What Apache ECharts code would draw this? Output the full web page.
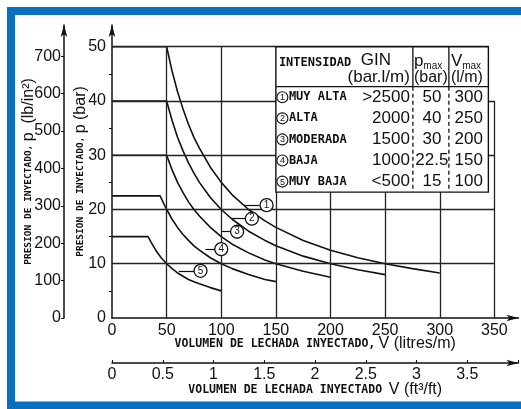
<!DOCTYPE html>
<html><head><meta charset="utf-8">
<script src="https://cdn.jsdelivr.net/npm/echarts@6/dist/echarts.min.js"></script>
<style>html,body{margin:0;padding:0;background:#fff}#c{width:521px;height:409px}</style>
</head><body><div id="c"></div>
<script>
// ---------- DATA ----------
const curveNames = ['1', '2', '3', '4', '5'];
const intensityNames = ['MUY ALTA', 'ALTA', 'MODERADA', 'BAJA', 'MUY BAJA'];
const ginLabels = ['>2500', '2000', '1500', '1000', '<500'];
const pmaxLabels = ['50', '40', '30', '22.5', '15'];
const vmaxLabels = ['300', '250', '200', '150', '100'];

const curve1V = [0, 50, 55, 60, 65, 70, 75, 80, 90, 100, 110, 125, 140, 150, 175, 200, 225, 250, 275, 300];
const curve1P = [50, 50, 45.5, 41.7, 38.5, 35.7, 33.3, 31.3, 27.8, 25, 22.7, 20, 17.9, 16.7, 14.3, 12.5, 11.1, 10, 9.1, 8.3];
const curve2V = [0, 50, 55, 60, 65, 70, 75, 80, 90, 100, 110, 125, 140, 150, 175, 200, 225, 250];
const curve2P = [40, 40, 36.4, 33.3, 30.8, 28.6, 26.7, 25, 22.2, 20, 18.2, 16, 14.3, 13.3, 11.4, 10, 8.9, 8];
const curve3V = [0, 50, 55, 60, 65, 70, 75, 80, 90, 100, 110, 125, 140, 150, 175, 200];
const curve3P = [30, 30, 27.3, 25, 23.1, 21.4, 20, 18.8, 16.7, 15, 13.6, 12, 10.7, 10, 8.6, 7.5];
const curve4V = [0, 44, 50, 55, 60, 65, 70, 75, 80, 90, 100, 110, 125, 140, 150];
const curve4P = [22.5, 22.5, 20, 18.2, 16.7, 15.4, 14.3, 13.3, 12.5, 11.1, 10, 9.1, 8, 7.1, 6.7];
const curve5V = [0, 33, 36, 40, 45, 50, 55, 60, 65, 70, 75, 80, 90, 100];
const curve5P = [15, 15, 13.9, 12.5, 11.1, 10, 9.1, 8.3, 7.7, 7.1, 6.7, 6.3, 5.6, 5];

const xTicksLitres = [0, 50, 100, 150, 200, 250, 300, 350];
const xTicksFt = [0, 0.5, 1, 1.5, 2, 2.5, 3, 3.5];
const yTicksBar = [0, 10, 20, 30, 40, 50];
const yTicksPsi = [0, 100, 200, 300, 400, 500, 600, 700];
const gridLinesV = [50, 100, 150, 200, 250, 300, 350];
const gridLinesP = [10, 20, 30, 40, 50];

// ---------- LAYOUT / ANNOTATION ANCHORS ----------
const LITRES_PER_FT3FT = 92.903;   // 1 ft3/ft = 92.903 l/m
const PSI_PER_BAR = 14.5038;
const X_MAX = 372, Y_MAX = 54;
const ann = {
  from:  [121, 109, 100, 85.5, 61],
  to:    [135, 122.5, 110, 95.5, 76],
  p:     [20.8, 18.3, 15.9, 12.7, 8.7],
  badge: [141.5, 128, 114.5, 100, 81]
};

const ink = '#111';
const numFont = '"Liberation Sans", Arial, sans-serif';
const monoFont = '"DejaVu Sans Mono", "Liberation Mono", monospace';
const near = (arr, v) => arr.some(t => Math.abs(t - v) < 1e-6);

const chart = echarts.init(document.getElementById('c'), null, {renderer: 'canvas'});
const curves = [[curve1V, curve1P], [curve2V, curve2P], [curve3V, curve3P], [curve4V, curve4P], [curve5V, curve5P]];

function axisLine() {
  return {show: true, onZero: false, symbol: ['none', 'arrow'], symbolSize: [5, 12],
    lineStyle: {color: ink, width: 1.5, type: 'solid', opacity: 1}};
}
function richName(small, big) {
  return {rich: {
    s: {fontFamily: monoFont, fontWeight: 'bold', fontSize: small, color: ink},
    b: {fontFamily: numFont, fontSize: big, color: ink}
  }};
}

const gridSeries = {
  type: 'line', data: [], silent: true, xAxisIndex: 0, yAxisIndex: 0,
  markLine: {
    silent: true, symbol: ['none', 'none'], animation: false,
    lineStyle: {color: '#222', width: 1.3, type: 'solid'}, label: {show: false},
    data: [
      ...gridLinesV.map(v => [{coord: [v, 0]}, {coord: [v, v === 350 ? 40 : 50]}]),
      ...gridLinesP.map(p => [{coord: [0, p]}, {coord: [p === 50 ? 345 : 350, p]}])
    ]
  }
};

const curveSeries = curves.map((c, i) => ({
  type: 'line', name: curveNames[i], xAxisIndex: 0, yAxisIndex: 0,
  data: c[0].map((v, j) => [v, c[1][j]]),
  symbol: 'none', lineStyle: {color: ink, width: 1.6}, z: 3, silent: true,
  markLine: {
    silent: true, symbol: ['arrow', 'none'], symbolSize: [6, 0],
    lineStyle: {color: ink, width: 1.2, type: 'solid'}, label: {show: false},
    data: [[{coord: [ann.from[i], ann.p[i]]}, {coord: [ann.to[i], ann.p[i]]}]]
  },
  markPoint: {
    silent: true, symbol: 'circle', symbolSize: 13,
    itemStyle: {color: '#fff', borderColor: ink, borderWidth: 1.3},
    label: {show: true, position: 'inside', formatter: curveNames[i], fontSize: 10, color: ink, fontFamily: numFont},
    data: [{coord: [ann.badge[i], ann.p[i]]}]
  }
}));

const option = {
  animation: false,
  backgroundColor: '#fff',
  grid: {left: 112, top: 25, width: 408, height: 293, containLabel: false},
  xAxis: [
    {
      type: 'value', min: 0, max: X_MAX, interval: 50, position: 'bottom',
      axisLine: axisLine(), axisTick: {show: false}, splitLine: {show: false},
      axisLabel: {fontSize: 16, color: ink, fontFamily: numFont, margin: 5, showMaxLabel: false,
        formatter: v => near(xTicksLitres, v) ? String(v) : ''},
      name: '{s|VOLUMEN DE LECHADA INYECTADO,} {b|V (litres/m)}',
      nameLocation: 'middle', nameGap: 18, nameMoveOverlap: false, nameTextStyle: richName(11.5, 16)
    },
    {
      type: 'value', min: 0, max: X_MAX / LITRES_PER_FT3FT, interval: 0.5, position: 'bottom', offset: 45,
      axisLine: axisLine(), axisTick: {show: true, inside: true, length: 3, lineStyle: {color: ink}}, splitLine: {show: false},
      axisLabel: {fontSize: 16, color: ink, fontFamily: numFont, margin: 4, showMaxLabel: false,
        formatter: v => near(xTicksFt, v) ? String(v) : ''},
      name: '{s|VOLUMEN DE LECHADA INYECTADO}  {b|V (ft³/ft)}',
      nameLocation: 'middle', nameGap: 19, nameMoveOverlap: false, nameTextStyle: richName(11.5, 16)
    }
  ],
  yAxis: [
    {
      type: 'value', min: 0, max: Y_MAX, interval: 10, position: 'left',
      axisLine: axisLine(), axisTick: {show: false}, splitLine: {show: false},
      minorTick: {show: true, splitNumber: 2, length: 3, lineStyle: {color: ink}},
      axisLabel: {fontSize: 16, color: ink, fontFamily: numFont, margin: 6, showMaxLabel: false,
        formatter: v => near(yTicksBar, v) ? String(v) : ''},
      name: '{s|PRESION DE INYECTADO,} {b|p (bar)}',
      nameLocation: 'middle', nameRotate: 90, nameGap: 23, nameMoveOverlap: false, nameTextStyle: richName(9.5, 16)
    },
    {
      type: 'value', min: 0, max: Y_MAX * PSI_PER_BAR, interval: 100, position: 'left', offset: 48,
      axisLine: axisLine(), axisTick: {show: true, length: 3, lineStyle: {color: ink}}, splitLine: {show: false},
      axisLabel: {fontSize: 16, color: ink, fontFamily: numFont, margin: 3, showMaxLabel: false,
        formatter: v => near(yTicksPsi, v) ? String(v) : ''},
      name: '{s|PRESION DE INYECTADO,} {b|p  (lb/in²)}',
      nameLocation: 'middle', nameRotate: 90, nameGap: 27, nameMoveOverlap: false, nameTextStyle: richName(9.5, 16)
    }
  ],
  series: [gridSeries, ...curveSeries]
};
chart.setOption(option);

// ---------- TABLE (anchored in data space) + BLUE FRAME ----------
const TABLE_LEFT_V = 150, TABLE_RIGHT_V = 344.5, TABLE_TOP_P = 50, TABLE_BOTTOM_P = 23.2;
const tl = chart.convertToPixel({seriesIndex: 1}, [TABLE_LEFT_V, TABLE_TOP_P]);
const br = chart.convertToPixel({seriesIndex: 1}, [TABLE_RIGHT_V, TABLE_BOTTOM_P]);
const x0 = tl[0], y0 = tl[1], W = br[0] - tl[0], H = br[1] - tl[1];
const hdr = 40, c1 = 137, c2 = 173;
const rowH = (H - hdr) / 5;

function txt(t, x, y, font, align, extra) {
  return Object.assign({type: 'text', z: 60, silent: true,
    style: {text: t, x: x, y: y, font: font, fill: ink, align: align, verticalAlign: 'middle',
      textAlign: align, textVerticalAlign: 'middle'}}, extra || {});
}
const lineEl = (x1, y1, x2, y2, dash) => ({type: 'line', z: 59, silent: true,
  shape: {x1, y1, x2, y2}, style: {stroke: ink, lineWidth: 1.3, lineDash: dash || null}});

const g = [];
g.push({type: 'rect', z: 58, silent: true, shape: {x: x0, y: y0, width: W, height: H},
  style: {fill: '#fff', stroke: ink, lineWidth: 1.4}});
g.push(lineEl(x0, y0 + hdr, x0 + W, y0 + hdr));
g.push(lineEl(x0 + c1, y0, x0 + c1, y0 + hdr));
g.push(lineEl(x0 + c2, y0, x0 + c2, y0 + hdr));
g.push(lineEl(x0 + c1, y0 + hdr, x0 + c1, y0 + H, [4, 3]));
g.push(lineEl(x0 + c2, y0 + hdr, x0 + c2, y0 + H, [4, 3]));
g.push(txt('INTENSIDAD', x0 + 3, y0 + 16, 'bold 12px ' + monoFont, 'left'));
g.push(txt('GIN', x0 + 100, y0 + 14, '17px ' + numFont, 'center'));
g.push(txt('(bar.l/m)', x0 + 134, y0 + 31, '17px ' + numFont, 'right'));
g.push({type: 'text', z: 60, silent: true, style: {text: '{a|p}{b|max}', x: x0 + 138, y: y0 + 15,
  align: 'left', verticalAlign: 'middle', textAlign: 'left', textVerticalAlign: 'middle', fill: ink,
  rich: {a: {fontFamily: numFont, fontSize: 17, fill: ink, color: ink},
         b: {fontFamily: numFont, fontSize: 10, fill: ink, color: ink, padding: [9, 0, 0, 0]}}}});
g.push(txt('(bar)', x0 + 155, y0 + 31, '16px ' + numFont, 'center'));
g.push({type: 'text', z: 60, silent: true, style: {text: '{a|V}{b|max}', x: x0 + 175, y: y0 + 15,
  align: 'left', verticalAlign: 'middle', textAlign: 'left', textVerticalAlign: 'middle', fill: ink,
  rich: {a: {fontFamily: numFont, fontSize: 17, fill: ink, color: ink},
         b: {fontFamily: numFont, fontSize: 10, fill: ink, color: ink, padding: [9, 0, 0, 0]}}}});
g.push(txt('(l/m)', x0 + 191, y0 + 31, '16px ' + numFont, 'center'));
for (let i = 0; i < 5; i++) {
  const yc = y0 + hdr + rowH * (i + 0.5);
  g.push({type: 'circle', z: 60, silent: true, shape: {cx: x0 + 6.5, cy: yc, r: 5.5},
    style: {fill: '#fff', stroke: ink, lineWidth: 1.1}});
  g.push(txt(curveNames[i], x0 + 6.5, yc + 0.5, '9px ' + numFont, 'center', {z: 61}));
  g.push(txt(intensityNames[i], x0 + 13, yc, 'bold 12px ' + monoFont, 'left'));
  g.push(txt(ginLabels[i], x0 + 134, yc, '17px ' + numFont, 'right'));
  g.push(txt(pmaxLabels[i], x0 + 156, yc, '17px ' + numFont, 'center'));
  g.push(txt(vmaxLabels[i], x0 + 207, yc, '17px ' + numFont, 'right'));
}
// blue frame
g.push({type: 'rect', z: 100, silent: true, shape: {x: 11, y: 11, width: 530, height: 394.5},
  style: {fill: 'none', stroke: '#0b6fbf', lineWidth: 8}});

chart.setOption({graphic: g});
</script>
</body></html>
